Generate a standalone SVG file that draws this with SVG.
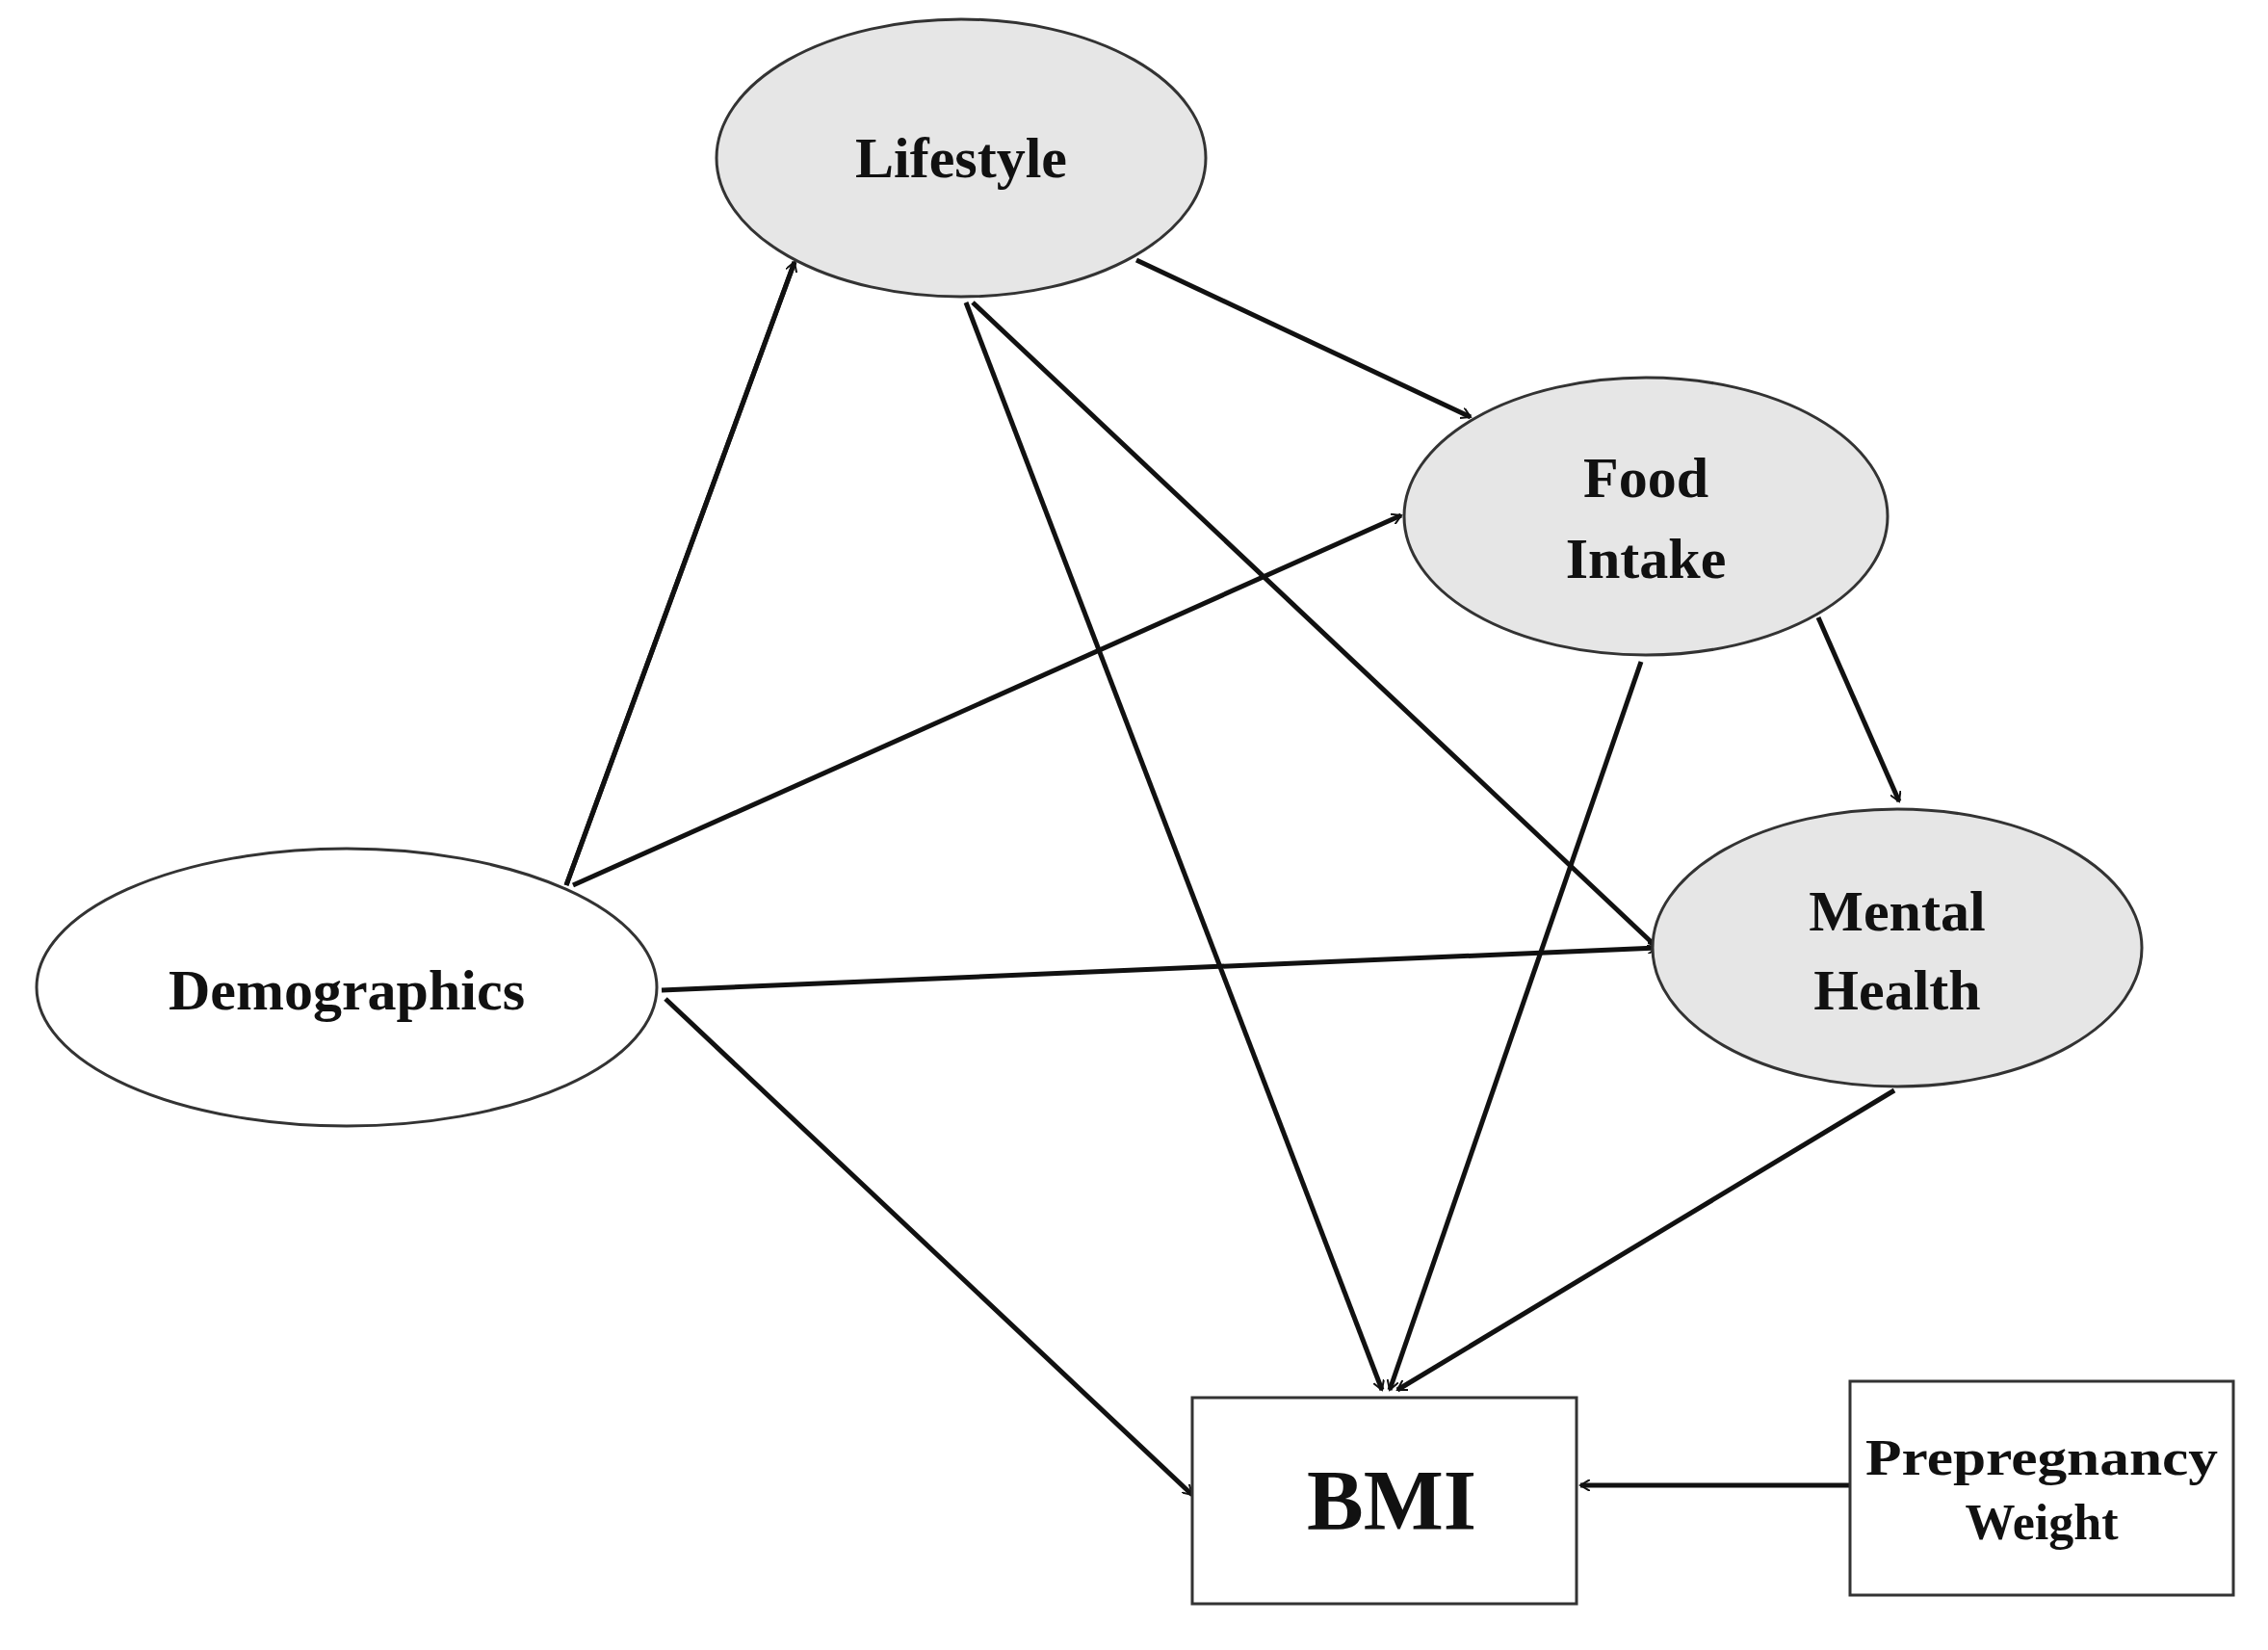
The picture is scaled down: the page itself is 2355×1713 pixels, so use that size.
<svg xmlns="http://www.w3.org/2000/svg" width="2355" height="1713" viewBox="0 0 2355 1713">
<style>
.n{stroke:#333;stroke-width:3}
.g{fill:#e6e6e6}
.w{fill:#fff}
text{font-family:"Liberation Serif","Times New Roman",serif;font-weight:bold;fill:#111;text-anchor:middle}
.e{stroke:#111;stroke-width:5;fill:none;marker-end:url(#a)}
</style>
<defs>
<marker id="a" markerWidth="12" markerHeight="12" refX="10" refY="6" orient="auto" markerUnits="userSpaceOnUse" viewBox="0 0 12 12">
<path d="M0,0 L10,6 L0,12" fill="none" stroke="#111" stroke-width="2"/>
</marker>
</defs>
<rect width="2355" height="1713" fill="#fff"/>
<g id="connectors">
<line class="e" x1="588" y1="919" x2="825" y2="272" style="marker-end:none"/>
<path class="e" d="M588 919 L825 272"/>
<path class="e" d="M595 919 L1455 535"/>
<path class="e" d="M687 1028 L1721 984"/>
<path class="e" d="M691 1037 L1238 1552"/>
<path class="e" d="M1180 270 L1527 433"/>
<path class="e" d="M1003 314 L1435 1443"/>
<path class="e" d="M1010 314 L1721 984"/>
<path class="e" d="M1704 687 L1443 1443"/>
<path class="e" d="M1888 641 L1972 832"/>
<path class="e" d="M1967 1132 L1451 1443"/>
<path class="e" d="M1921 1542 L1641 1542"/>
</g>
<g id="lifestyle"><ellipse class="n g" cx="998" cy="164" rx="254" ry="144"/><text x="998" y="184" font-size="60">Lifestyle</text></g>
<g id="food"><ellipse class="n g" cx="1709" cy="536" rx="251" ry="144"/><text x="1709" y="516" font-size="60">Food</text><text x="1709" y="600" font-size="60">Intake</text></g>
<g id="mental"><ellipse class="n g" cx="1970" cy="984" rx="254" ry="144"/><text x="1970" y="966" font-size="60">Mental</text><text x="1970" y="1048" font-size="60">Health</text></g>
<g id="demographics"><ellipse class="n w" cx="360" cy="1025" rx="322" ry="144"/><text x="360" y="1048" font-size="60">Demographics</text></g>
<g id="bmi"><rect class="n w" x="1238" y="1451" width="399" height="214"/><text x="1445" y="1587" font-size="88">BMI</text></g>
<g id="prepregnancy"><rect class="n w" x="1921" y="1434" width="398" height="222"/><text x="2120" y="1531" font-size="52" textLength="366" lengthAdjust="spacingAndGlyphs">Prepregnancy</text><text x="2120" y="1598" font-size="52">Weight</text></g>
</svg>
